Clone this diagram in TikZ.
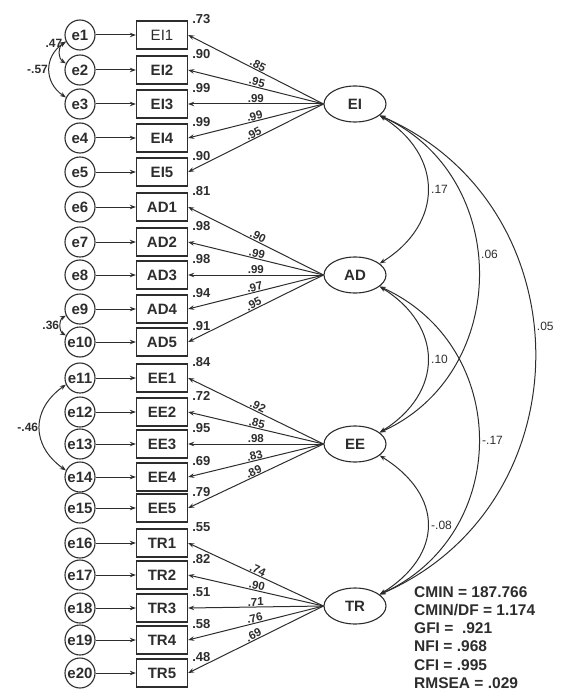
\documentclass[tikz,border=0pt]{standalone}
\usepackage{fontspec}
\setmainfont{Liberation Sans}
\usepackage{tikz}
\usetikzlibrary{shapes.geometric, arrows.meta, positioning, calc}
\definecolor{ink}{RGB}{45,45,45}

\begin{document}
\begin{tikzpicture}[
        x=1pt, y=-1pt,
        node distance=82pt,
        font=\fontsize{15}{18}\selectfont\bfseries,
        every node/.style={text=ink},
        err/.style={draw=ink, circle, line width=1.1pt, minimum size=30pt, inner sep=0pt},
        ind/.style={draw=ink, rectangle, line width=1.3pt, minimum width=51pt, minimum height=28pt, inner sep=0pt},
        lat/.style={draw=ink, ellipse, line width=1.1pt, minimum width=62pt, minimum height=36pt, inner sep=0pt},
        arr/.style={-{Stealth[length=6pt, width=4.5pt]}, draw=ink, line width=1pt},
        load/.style={-{Stealth[length=6pt, width=4.5pt]}, draw=ink, line width=1pt},
        cov/.style={{Stealth[length=6pt, width=4.5pt]}-{Stealth[length=6pt, width=4.5pt]}, draw=ink, line width=1pt},
        lbl/.style={sloped, above, pos=0.5, inner sep=0.5pt, font=\fontsize{11.5}{14}\selectfont\bfseries},
        rsq/.style={anchor=base west, xshift=4pt, yshift=-3pt, inner sep=0pt, font=\fontsize{13}{15}\selectfont\bfseries},
        covlbl/.style={inner sep=3pt, font=\fontsize{12}{14}\selectfont},
        errlbl/.style={inner sep=1pt, font=\fontsize{12}{14}\selectfont\bfseries},
        gofbox/.style={anchor=north west, align=left, inner sep=0pt, font=\fontsize{15.5}{18.3}\selectfont\bfseries}
    ]
        \useasboundingbox (0,0) rectangle (563,695);

        % errors and indicators
        \node[err] (e1) at (80,35) {e1}; \node[ind, right of=e1] (EI1) {\mdseries EI1}; \draw[arr] (e1) -- (EI1);
        \node[err] (e2) at (80,70) {e2}; \node[ind, right of=e2] (EI2) {EI2}; \draw[arr] (e2) -- (EI2);
        \node[err] (e3) at (80,104) {e3}; \node[ind, right of=e3] (EI3) {EI3}; \draw[arr] (e3) -- (EI3);
        \node[err] (e4) at (80,138) {e4}; \node[ind, right of=e4] (EI4) {EI4}; \draw[arr] (e4) -- (EI4);
        \node[err] (e5) at (80,172) {e5}; \node[ind, right of=e5] (EI5) {EI5}; \draw[arr] (e5) -- (EI5);
        \node[err] (e6) at (80,207) {e6}; \node[ind, right of=e6] (AD1) {AD1}; \draw[arr] (e6) -- (AD1);
        \node[err] (e7) at (80,242) {e7}; \node[ind, right of=e7] (AD2) {AD2}; \draw[arr] (e7) -- (AD2);
        \node[err] (e8) at (80,275) {e8}; \node[ind, right of=e8] (AD3) {AD3}; \draw[arr] (e8) -- (AD3);
        \node[err] (e9) at (80,309) {e9}; \node[ind, right of=e9] (AD4) {AD4}; \draw[arr] (e9) -- (AD4);
        \node[err] (e10) at (80,342) {e10}; \node[ind, right of=e10] (AD5) {AD5}; \draw[arr] (e10) -- (AD5);
        \node[err] (e11) at (80,378) {e11}; \node[ind, right of=e11] (EE1) {EE1}; \draw[arr] (e11) -- (EE1);
        \node[err] (e12) at (80,412) {e12}; \node[ind, right of=e12] (EE2) {EE2}; \draw[arr] (e12) -- (EE2);
        \node[err] (e13) at (80,444) {e13}; \node[ind, right of=e13] (EE3) {EE3}; \draw[arr] (e13) -- (EE3);
        \node[err] (e14) at (80,477) {e14}; \node[ind, right of=e14] (EE4) {EE4}; \draw[arr] (e14) -- (EE4);
        \node[err] (e15) at (80,508) {e15}; \node[ind, right of=e15] (EE5) {EE5}; \draw[arr] (e15) -- (EE5);
        \node[err] (e16) at (80,543) {e16}; \node[ind, right of=e16] (TR1) {TR1}; \draw[arr] (e16) -- (TR1);
        \node[err] (e17) at (80,575) {e17}; \node[ind, right of=e17] (TR2) {TR2}; \draw[arr] (e17) -- (TR2);
        \node[err] (e18) at (80,608) {e18}; \node[ind, right of=e18] (TR3) {TR3}; \draw[arr] (e18) -- (TR3);
        \node[err] (e19) at (80,640) {e19}; \node[ind, right of=e19] (TR4) {TR4}; \draw[arr] (e19) -- (TR4);
        \node[err] (e20) at (80,673) {e20}; \node[ind, right of=e20] (TR5) {TR5}; \draw[arr] (e20) -- (TR5);

        % squared multiple correlations
        \node[rsq] at (EI1.north east) {.73}; \node[rsq] at (EI2.north east) {.90};
        \node[rsq] at (EI3.north east) {.99}; \node[rsq] at (EI4.north east) {.99};
        \node[rsq] at (EI5.north east) {.90};
        \node[rsq] at (AD1.north east) {.81}; \node[rsq] at (AD2.north east) {.98};
        \node[rsq] at (AD3.north east) {.98}; \node[rsq] at (AD4.north east) {.94};
        \node[rsq] at (AD5.north east) {.91};
        \node[rsq] at (EE1.north east) {.84}; \node[rsq] at (EE2.north east) {.72};
        \node[rsq] at (EE3.north east) {.95}; \node[rsq] at (EE4.north east) {.69};
        \node[rsq] at (EE5.north east) {.79};
        \node[rsq] at (TR1.north east) {.55}; \node[rsq] at (TR2.north east) {.82};
        \node[rsq] at (TR3.north east) {.51}; \node[rsq] at (TR4.north east) {.58};
        \node[rsq] at (TR5.north east) {.48};

        % latent factors
        \node[lat] (EI) at (355,104) {EI};
        \node[lat] (AD) at (355,275) {AD};
        \node[lat] (EE) at (355,444) {EE};
        \node[lat] (TR) at (355,606) {TR};

        % loadings
        \draw[load] (EI.west) -- node[lbl]{.85} (EI1.east);
        \draw[load] (EI.west) -- node[lbl]{.95} (EI2.east);
        \draw[load] (EI.west) -- node[lbl]{.99} (EI3.east);
        \draw[load] (EI.west) -- node[lbl]{.99} (EI4.east);
        \draw[load] (EI.west) -- node[lbl]{.95} (EI5.east);
        \draw[load] (AD.west) -- node[lbl]{.90} (AD1.east);
        \draw[load] (AD.west) -- node[lbl]{.99} (AD2.east);
        \draw[load] (AD.west) -- node[lbl]{.99} (AD3.east);
        \draw[load] (AD.west) -- node[lbl]{.97} (AD4.east);
        \draw[load] (AD.west) -- node[lbl]{.95} (AD5.east);
        \draw[load] (EE.west) -- node[lbl]{.92} (EE1.east);
        \draw[load] (EE.west) -- node[lbl]{.85} (EE2.east);
        \draw[load] (EE.west) -- node[lbl]{.98} (EE3.east);
        \draw[load] (EE.west) -- node[lbl]{.83} (EE4.east);
        \draw[load] (EE.west) -- node[lbl]{.89} (EE5.east);
        \draw[load] (TR.west) -- node[lbl]{.74} (TR1.east);
        \draw[load] (TR.west) -- node[lbl]{.90} (TR2.east);
        \draw[load] (TR.west) -- node[lbl]{.71} (TR3.east);
        \draw[load] (TR.west) -- node[lbl]{.76} (TR4.east);
        \draw[load] (TR.west) -- node[lbl]{.69} (TR5.east);

        % error covariances
        \draw[cov] (e1.205) .. controls +(-8,5) and +(-8,-5) .. node[errlbl, pos=0.1, left]{.47} (e2.155);
        \draw[cov] (e1.205) .. controls +(-22,15) and +(-22,-15) .. node[errlbl, left]{-.57} (e3.155);
        \draw[cov] (e9.205) .. controls +(-7,4) and +(-7,-4) .. node[errlbl, left]{.36} (e10.155);
        \draw[cov] (e11.205) .. controls +(-35,25) and +(-35,-25) .. node[errlbl, left]{-.46} (e14.155);

        % factor covariances
        \draw[cov] (EI.-25) .. controls +(64,40) and +(64,-40) .. node[covlbl, right]{.17} (AD.25);
        \draw[cov] (EI.-25) .. controls +(132,60) and +(132,-60) .. node[covlbl, pos=0.45, right]{.06} (EE.25);
        \draw[cov] (EI.-25) .. controls +(207,90) and +(207,-90) .. node[covlbl, pos=0.45, right]{.05} (TR.25);
        \draw[cov] (AD.-25) .. controls +(64,40) and +(64,-40) .. node[covlbl, right]{.10} (EE.25);
        \draw[cov] (AD.-25) .. controls +(132,60) and +(132,-60) .. node[covlbl, pos=0.5, right]{-.17} (TR.25);
        \draw[cov] (EE.-25) .. controls +(64,40) and +(64,-40) .. node[covlbl, right]{-.08} (TR.25);

        % fit indices
        \node[gofbox] (gof) at (414,586) {CMIN = 187.766\\CMIN/DF = 1.174\\GFI =\ \ .921\\NFI = .968\\CFI = .995\\RMSEA = .029};
    \end{tikzpicture}
\end{document}
